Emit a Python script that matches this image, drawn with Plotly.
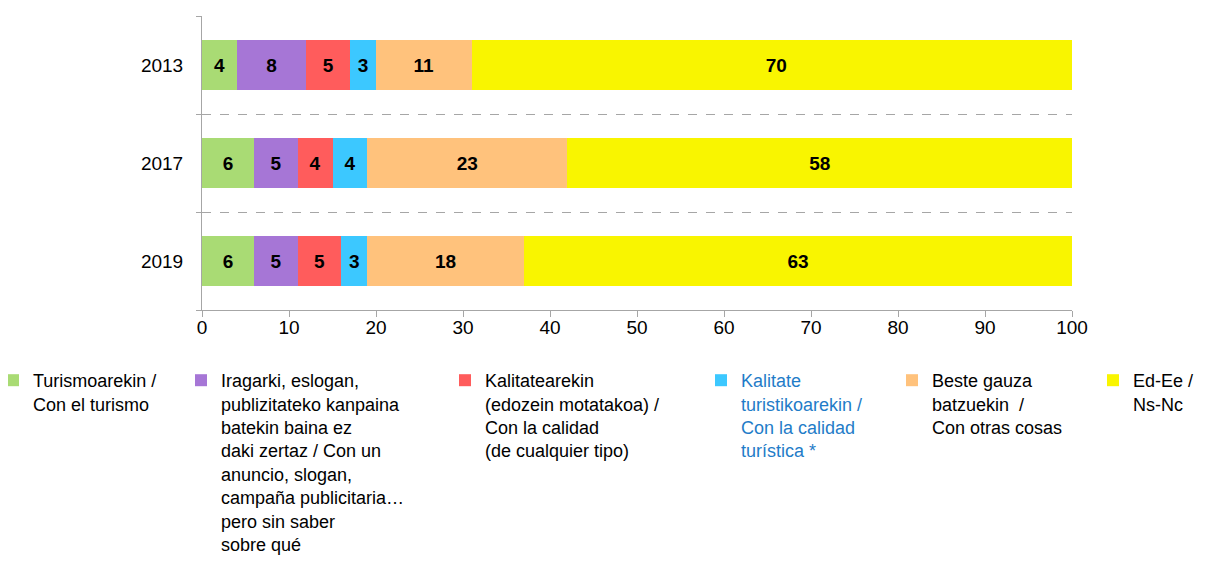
import plotly.graph_objects as go

years = ["2013", "2017", "2019"]
series_names = [
    "Turismoarekin /<br>Con el turismo",
    "Iragarki, eslogan,<br>publizitateko kanpaina<br>batekin baina ez<br>daki zertaz / Con un<br>anuncio, slogan,<br>campaña publicitaria…<br>pero sin saber<br>sobre qué",
    "Kalitatearekin<br>(edozein motatakoa) /<br>Con la calidad<br>(de cualquier tipo)",
    "Kalitate<br>turistikoarekin /<br>Con la calidad<br>turística *",
    "Beste gauza<br>batzuekin  /<br>Con otras cosas",
    "Ed-Ee /<br>Ns-Nc",
]
turismo = [4, 6, 6]
iragarki = [8, 5, 5]
kalitatea = [5, 4, 5]
kalitate_turistikoa = [3, 4, 3]
beste = [11, 23, 18]
ed_ee = [70, 58, 63]
series_values = [turismo, iragarki, kalitatea, kalitate_turistikoa, beste, ed_ee]
x_ticks = [0, 10, 20, 30, 40, 50, 60, 70, 80, 90, 100]

colors = ["#a9db74", "#a676d6", "#ff5c5c", "#3cc8ff", "#ffc27c", "#f9f500"]
legend_text_colors = ["#000000", "#000000", "#000000", "#1f7cc8", "#000000", "#000000"]

# figure is placed by the page with an 8px body margin
OFF = 8
W, H = 1190, 550
L, T = 202 - OFF, 16 - OFF
R = W - (1072 - OFF)
B = H - (310 - OFF)
pw, ph = W - L - R, H - T - B
legend_text_left_px = [27, 221, 485, 741, 932, 1133]
legend_top_px = 354
FONT = "Liberation Sans, Arial"

fig = go.Figure()
layout_legends = {}
for i, (name, vals) in enumerate(zip(series_names, series_values)):
    lid = "legend" if i == 0 else f"legend{i+1}"
    fig.add_trace(go.Bar(
        y=years, x=vals, name=name, orientation="h",
        marker=dict(color=colors[i], line=dict(width=0)),
        text=vals, texttemplate="%{x}", textposition="inside",
        insidetextanchor="middle", constraintext="none", textangle=0,
        textfont=dict(family=FONT, size=19, color="#000000", weight="bold"),
        legend=lid, showlegend=True, hoverinfo="skip",
    ))
    indent = -15 if i == 0 else 0
    lx_px = max(0, legend_text_left_px[i] - OFF - 40 - indent)
    layout_legends[lid] = dict(
        x=(lx_px - L) / pw,
        y=(H - B - legend_top_px) / ph,
        xanchor="left", yanchor="top", xref="paper", yref="paper",
        bgcolor="rgba(0,0,0,0)", valign="top", itemclick=False,
        indentation=indent,
        font=dict(family=FONT, size=18, color=legend_text_colors[i]),
        tracegroupgap=0, visible=True,
    )

fig.update_layout(
    width=W, height=H,
    margin=dict(l=L, r=R, t=T, b=B, autoexpand=False),
    barmode="stack", bargap=0.48, showlegend=True,
    plot_bgcolor="white", paper_bgcolor="white",
    font=dict(family=FONT, size=19, color="#000000"),
    **layout_legends,
)
fig.update_xaxes(
    range=[0, 100], tickvals=x_ticks, showgrid=False, zeroline=False,
    showline=True, linecolor="#a6a6a6", linewidth=1,
    ticks="outside", ticklen=6, tickcolor="#a6a6a6",
    ticklabelstandoff=-6,
    tickfont=dict(size=19, color="#000000"),
)
fig.update_yaxes(
    type="category", categoryorder="array", categoryarray=years[::-1],
    range=[-0.5, 2.5], tickson="boundaries",
    showgrid=True, gridcolor="#a6a6a6", griddash="dash", gridwidth=1,
    showline=True, linecolor="#a6a6a6", linewidth=1,
    ticks="outside", ticklen=5, tickcolor="#a6a6a6",
    ticklabelstandoff=14,
    tickfont=dict(size=19, color="#000000"),
)

fig.write_html("out.html")
